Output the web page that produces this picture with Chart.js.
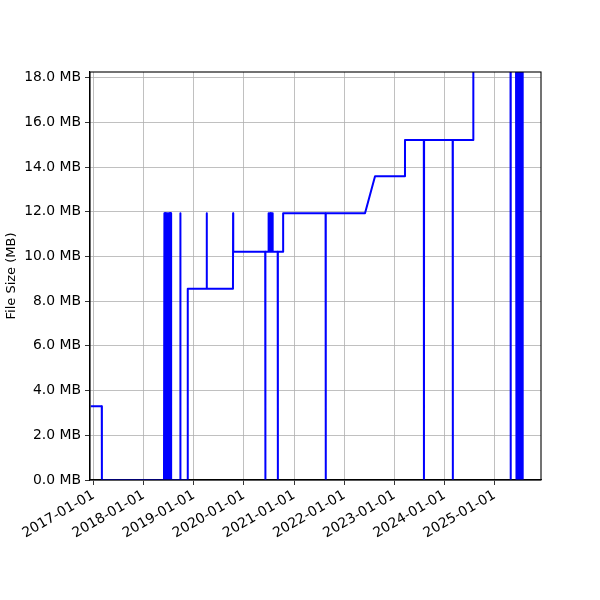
<!DOCTYPE html>
<html>
<head>
<meta charset="utf-8">
<script src="https://cdn.jsdelivr.net/npm/chart.js@4/dist/chart.umd.min.js"></script>
<style>
  html, body { margin: 0; padding: 0; background: #fff; }
  #wrap { width: 600px; height: 600px; }
</style>
</head>
<body>
<div id="wrap"><canvas id="chart" width="600" height="600"></canvas></div>
<script>
// commit dates and file size (MB) at each commit
const dates = [
  '2016-12-12', '2017-03-02', '2017-03-03',
  // burst mid 2018
  '2018-05-29', '2018-06-01', '2018-06-04', '2018-06-07', '2018-06-10', '2018-06-13',
  '2018-06-16', '2018-06-19', '2018-06-22', '2018-06-25', '2018-06-28', '2018-07-01',
  '2018-07-04', '2018-07-07', '2018-07-10', '2018-07-13', '2018-07-16', '2018-07-19',
  '2018-07-20',
  '2018-09-24', '2018-09-25', '2018-09-26',
  '2018-11-17', '2018-11-18',
  '2019-04-04', '2019-04-05', '2019-04-06',
  '2019-10-13', '2019-10-14', '2019-10-15',
  '2020-06-04', '2020-06-05', '2020-06-06',
  // burst mid 2020
  '2020-06-27', '2020-06-29', '2020-07-02', '2020-07-05', '2020-07-08', '2020-07-11',
  '2020-07-14', '2020-07-17', '2020-07-20', '2020-07-23', '2020-07-26', '2020-07-28',
  '2020-07-29',
  '2020-09-03', '2020-09-04', '2020-09-05',
  '2020-10-12', '2020-10-13',
  '2021-08-18', '2021-08-19', '2021-08-20',
  '2022-06-01', '2022-08-13',
  '2023-03-18', '2023-03-19',
  '2023-08-03', '2023-08-04', '2023-08-05',
  '2024-02-29', '2024-03-01', '2024-03-02',
  '2024-07-28', '2024-07-29',
  '2025-04-26', '2025-04-27', '2025-04-28',
  // burst mid 2025
  '2025-06-05', '2025-06-07', '2025-06-10', '2025-06-13', '2025-06-16', '2025-06-19',
  '2025-06-22', '2025-06-25', '2025-06-28', '2025-07-01', '2025-07-04', '2025-07-07',
  '2025-07-10', '2025-07-13', '2025-07-16', '2025-07-19', '2025-07-22', '2025-07-24',
  '2025-07-25',
  '2025-12-01',
];

const sizesMB = [
  3.3, 3.3, 0,
  0, 11.93, 0, 11.93, 0, 11.93,
  0, 11.93, 0, 11.93, 0, 11.93,
  0, 11.93, 0, 11.93, 0, 11.93,
  0,
  0, 11.93, 0,
  0, 8.55,
  8.55, 11.93, 8.55,
  8.55, 11.93, 10.21,
  10.21, 0, 10.21,
  10.21, 11.93, 10.21, 11.93, 10.21, 11.93,
  10.21, 11.93, 10.21, 11.93, 10.21, 11.93,
  10.21,
  10.21, 0, 10.21,
  10.21, 11.93,
  11.93, 0, 11.93,
  11.93, 13.59,
  13.59, 15.21,
  15.21, 0, 15.21,
  15.21, 0, 15.21,
  15.21, 19.5,
  19.5, 0, 19.5,
  19.5, 0, 19.5, 0, 19.5, 0,
  19.5, 0, 19.5, 0, 19.5, 0,
  19.5, 0, 19.5, 0, 19.5, 0,
  19.5,
  19.5,
];

const xRange = [2016.93, 2025.923];
const yRange = [0, 18.25];

function toYear(s) {
  const [y, m, d] = s.split('-').map(Number);
  const t = Date.UTC(y, m - 1, d);
  const a = Date.UTC(y, 0, 1);
  const b = Date.UTC(y + 1, 0, 1);
  return y + (t - a) / (b - a);
}

const points = dates.map((d, i) => ({ x: toYear(d), y: sizesMB[i] }));

const FONT = { family: 'DejaVu Sans', size: 13.9 };

const frame = {
  id: 'frame',
  afterDraw(chart) {
    const { ctx, chartArea: a } = chart;
    ctx.save();
    ctx.strokeStyle = '#000';
    ctx.lineWidth = 1.1;
    ctx.strokeRect(a.left, a.top, a.right - a.left, a.bottom - a.top);
    ctx.restore();
  },
};

new Chart(document.getElementById('chart'), {
  type: 'line',
  data: {
    datasets: [
      {
        data: points,
        borderColor: '#0000ff',
        borderWidth: 2,
        borderJoinStyle: 'round',
        pointRadius: 0,
        tension: 0,
        fill: false,
      },
    ],
  },
  options: {
    responsive: false,
    animation: false,
    layout: { padding: { top: 72, right: 59, bottom: 0, left: 0 } },
    plugins: { legend: { display: false }, tooltip: { enabled: false } },
    scales: {
      x: {
        type: 'linear',
        min: xRange[0],
        max: xRange[1],
        afterFit: (s) => { s.height = 120; },
        grid: { color: '#b0b0b0', lineWidth: 0.8, tickColor: '#000', tickLength: 5 },
        border: { color: '#000', width: 1.1 },
        ticks: {
          stepSize: 1,
          includeBounds: false,
          autoSkip: false,
          minRotation: 30,
          maxRotation: 30,
          padding: 2,
          color: '#000',
          font: FONT,
          callback: (v) => `${Math.round(v)}-01-01`,
        },
      },
      y: {
        min: yRange[0],
        max: yRange[1],
        afterFit: (s) => { s.width = 90; },
        grid: { color: '#b0b0b0', lineWidth: 0.8, tickColor: '#000', tickLength: 5 },
        border: { color: '#000', width: 1.1 },
        ticks: {
          stepSize: 2,
          includeBounds: false,
          padding: 4,
          color: '#000',
          font: FONT,
          callback: (v) => `${v.toFixed(1)} MB`,
        },
        title: {
          display: true,
          text: 'File Size (MB)',
          color: '#000',
          font: { family: 'DejaVu Sans', size: 13 },
          padding: { top: 4, bottom: 0 },
        },
      },
    },
  },
  plugins: [frame],
});
</script>
</body>
</html>
